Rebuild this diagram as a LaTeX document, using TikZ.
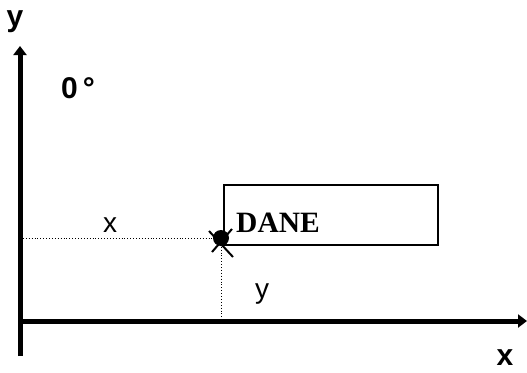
\documentclass[tikz,border=0pt]{standalone}
\usepackage{fontspec}
\setmainfont{Liberation Sans}
\newfontfamily\serifbold{Liberation Serif}
\usetikzlibrary{arrows.meta}
\begin{document}
\begin{tikzpicture}[x=1pt,y=-1pt,
  axis/.style={line width=5pt,-{Triangle[length=9pt,width=13pt]}},
  guide/.style={line width=0.9pt,dotted},
  lbl/.style={inner sep=0pt,font=\fontsize{28}{28}\selectfont},
  blbl/.style={inner sep=0pt,font=\fontsize{30}{30}\selectfont\bfseries}]
\useasboundingbox (0,0) rectangle (527,372);
\coordinate (ybot) at (20,356);
\coordinate (ytop) at (20,46);
\coordinate (xleft) at (18,321);
\coordinate (xright) at (527,321);
\coordinate (p) at (221,238);
\coordinate (pl) at (20,238);
\coordinate (pb) at (221,321);
\draw[guide] (pl) -- (p);
\draw[guide] (p) -- (pb);
\draw[axis] (ybot) -- (ytop);
\draw[axis] (xleft) -- (xright);
\node[draw,line width=2.2pt,minimum width=214pt,minimum height=60pt,anchor=north west,inner sep=0pt] (box) at (223,184) {};
\node[inner sep=0pt,anchor=west,font=\serifbold\fontsize{29.5}{29.5}\selectfont\bfseries] (dane) at (236,223) {DANE};
\fill (p) circle (8pt);
\draw[line width=2pt] (209,231) -- (233,257);
\draw[line width=2pt] (232,229) -- (212,252);
\node[blbl] (ylab) at (15,22) {y};
\node[blbl] (deg) at (78,88) {0\,°};
\node[lbl] (xlab) at (110,225) {x};
\node[lbl] (ylab2) at (262,294) {y};
\node[blbl] (xlab2) at (505,358) {x};
\end{tikzpicture}
\end{document}
